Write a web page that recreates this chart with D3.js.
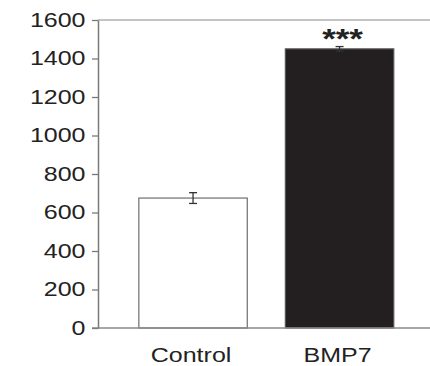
<!DOCTYPE html>
<html>
<head>
<meta charset="utf-8">
<script src="https://cdn.jsdelivr.net/npm/d3@7"></script>
<style>
  html, body { margin: 0; padding: 0; background: white; }
  svg { display: block; font-family: "Liberation Sans", Arial, sans-serif; }
</style>
</head>
<body>
<div id="chart"></div>
<script>
const width = 430
const height = 366
const margin = { top: 20, right: 0, bottom: 38, left: 98 }
const stretch = 1.25

const categories = ["Control", "BMP7"]
const values = [675, 1450]
const errors = [28, 12]
const fills = ["white", "#231f20"]
const marks = ["", "***"]
const yTicks = [0, 200, 400, 600, 800, 1000, 1200, 1400, 1600]

const data = categories.map((name, i) => ({
  name,
  value: values[i],
  error: errors[i],
  fill: fills[i],
  mark: marks[i],
}))

var xScale = d3
  .scaleBand(categories, [margin.left, width])
  .paddingInner(0.26)
  .paddingOuter(0.263)
  .align(0.53)
var yScale = d3.scaleLinear([0, 1600], [height - margin.bottom, margin.top])

var canvas = d3
  .select("#chart")
  .append("svg")
  .attr("width", width)
  .attr("height", height)

// Top frame line
canvas
  .append("line")
  .attr("x1", margin.left)
  .attr("x2", width)
  .attr("y1", yScale(1600))
  .attr("y2", yScale(1600))
  .style("stroke", "#b0b0b0")
  .style("stroke-width", "1.5px")

// Bars
canvas
  .append("g")
  .attr("id", "bars")
  .selectAll("rect")
  .data(data)
  .enter()
  .append("rect")
  .attr("x", (d) => xScale(d.name))
  .attr("y", (d) => yScale(d.value))
  .attr("width", xScale.bandwidth())
  .attr("height", (d) => yScale(0) - yScale(d.value))
  .style("fill", (d) => d.fill)
  .style("stroke", (d) => (d.fill === "white" ? "#6e6e6e" : "#555"))
  .style("stroke-width", "1.2px")

// Error bars
var err = canvas.append("g").attr("id", "errors").style("stroke", "#333").style("stroke-width", "1.3px")
data.forEach((d) => {
  var cx = xScale(d.name) + xScale.bandwidth() / 2
  var top = yScale(d.value + d.error)
  var bottom = yScale(d.value - d.error)
  err.append("line").attr("x1", cx).attr("x2", cx).attr("y1", top).attr("y2", bottom)
  err.append("line").attr("x1", cx - 4).attr("x2", cx + 4).attr("y1", top).attr("y2", top)
  err.append("line").attr("x1", cx - 4).attr("x2", cx + 4).attr("y1", bottom).attr("y2", bottom)
})

// Significance stars
canvas
  .append("g")
  .selectAll("g")
  .data(data.filter((d) => d.mark))
  .enter()
  .append("g")
  .attr("transform", (d) => `translate(${xScale(d.name) + xScale.bandwidth() / 2 + 3},${yScale(d.value + d.error) + 1}) scale(${stretch},1)`)
  .append("text")
  .attr("text-anchor", "middle")
  .style("font-size", "28px")
  .style("font-weight", "bold")
  .style("fill", "#222")
  .text((d) => d.mark)

// Baseline
canvas
  .append("line")
  .attr("x1", margin.left - 6)
  .attr("x2", width)
  .attr("y1", yScale(0))
  .attr("y2", yScale(0))
  .style("stroke", "#8a8a8a")
  .style("stroke-width", "1.5px")

// Y axis
var yAxis = d3
  .axisLeft(yScale)
  .tickValues(yTicks)
  .tickFormat(d3.format("d"))
  .tickSize(6)
  .tickPadding(4)
  .tickSizeOuter(0)
var yg = canvas
  .append("g")
  .attr("transform", `translate(${margin.left},0)`)
  .call(yAxis)
  .attr("font-family", null)
  .attr("font-size", null)
yg.select(".domain").style("stroke", "#7a7a7a").style("stroke-width", "1.5px")
yg.selectAll(".tick line").style("stroke", "#7a7a7a").style("stroke-width", "1.3px")
yg.selectAll(".tick text")
  .style("font-size", "20px")
  .style("fill", "#222")
  .attr("x", -10)
  .attr("transform", `scale(${stretch},1)`)

// X labels
canvas
  .append("g")
  .selectAll("g")
  .data(categories)
  .enter()
  .append("g")
  .attr("transform", (d) => `translate(${xScale(d) + xScale.bandwidth() / 2 - 2},362) scale(${stretch},1)`)
  .append("text")
  .attr("text-anchor", "middle")
  .style("font-size", "20px")
  .style("fill", "#222")
  .text((d) => d)
</script>
</body>
</html>
